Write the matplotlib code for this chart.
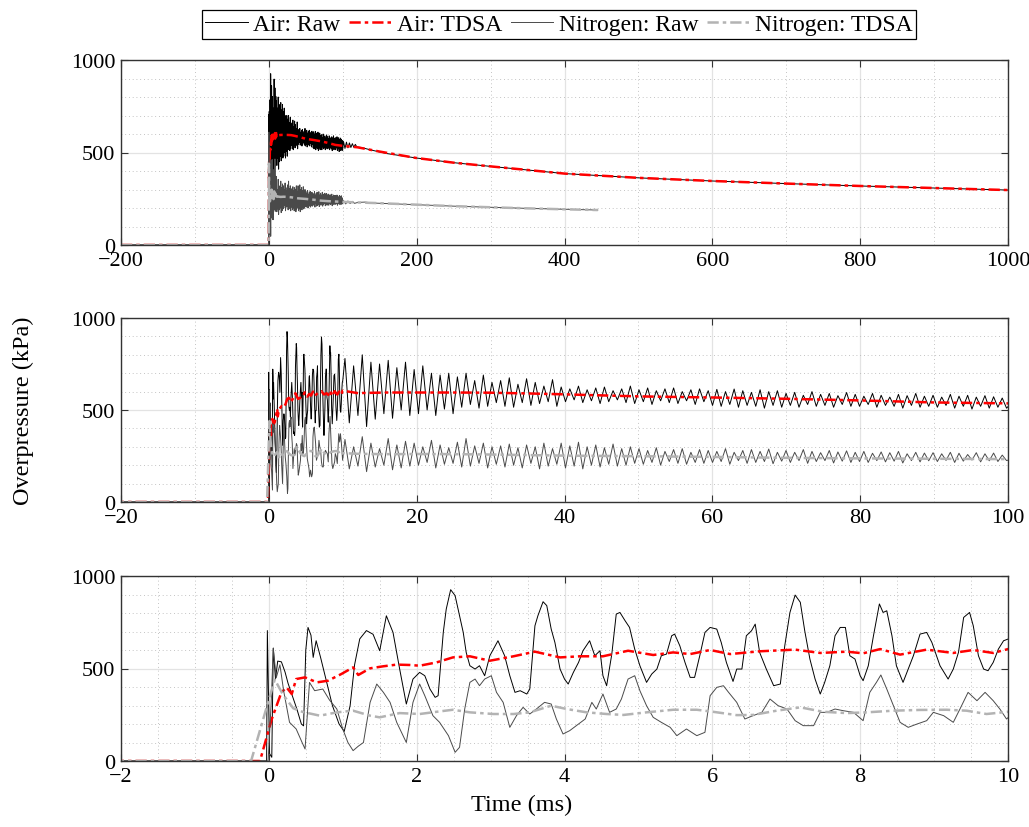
import numpy as np
import matplotlib
matplotlib.use("Agg")
import matplotlib.pyplot as plt
from matplotlib.ticker import MultipleLocator

plt.rcParams["font.family"] = ["Liberation Serif", "DejaVu Serif"]
plt.rcParams["axes.unicode_minus"] = True

# ---------------- data (ms, kPa) ----------------
# air raw, first 10 ms
air_raw_t = [
    -200, -0.03, -0.02, 0.01, 0.04, 0.06, 0.09, 0.12, 0.17, 0.22,
    0.26, 0.32, 0.38, 0.44, 0.47, 0.50, 0.53, 0.57, 0.60, 0.64,
    0.70, 0.78, 0.86, 0.95, 1.02, 1.10, 1.16, 1.23, 1.32, 1.41,
    1.50, 1.59, 1.68, 1.77, 1.86, 1.95, 2.04, 2.11, 2.18, 2.25,
    2.29, 2.36, 2.40, 2.46, 2.52, 2.58, 2.63, 2.67, 2.72, 2.79,
    2.85, 2.92, 2.99, 3.10, 3.19, 3.26, 3.33, 3.40, 3.49, 3.53,
    3.60, 3.64, 3.71, 3.76, 3.82, 3.87, 3.94, 4.00, 4.05, 4.12,
    4.19, 4.25, 4.34, 4.41, 4.48, 4.52, 4.57, 4.64, 4.70, 4.75,
    4.82, 4.88, 4.95, 5.02, 5.11, 5.18, 5.25, 5.31, 5.38, 5.45,
    5.49, 5.56, 5.63, 5.70, 5.76, 5.83, 5.90, 5.97, 6.06, 6.12,
    6.19, 6.28, 6.33, 6.40, 6.46, 6.53, 6.58, 6.64, 6.73, 6.83,
    6.92, 6.98, 7.05, 7.12, 7.19, 7.25, 7.32, 7.39, 7.46, 7.52,
    7.59, 7.66, 7.73, 7.80, 7.86, 7.93, 8.00, 8.04, 8.11, 8.18,
    8.26, 8.31, 8.36, 8.43, 8.49, 8.58, 8.65, 8.72, 8.81, 8.90,
    8.97, 9.08, 9.19, 9.26, 9.33, 9.40, 9.48, 9.53, 9.60, 9.67,
    9.73, 9.80, 9.87, 9.94, 10.0]
air_raw_v = [
    0, 0, 705, 40, 20, 610, 443, 540, 536, 480,
    420, 350, 280, 200, 190, 600, 722, 680, 560, 650,
    560, 430, 300, 200, 160, 300, 520, 660, 705, 685,
    596, 785, 695, 497, 308, 443, 479, 461, 389, 344,
    353, 695, 821, 926, 894, 785, 695, 587, 515, 497,
    515, 461, 569, 650, 569, 461, 371, 380, 362, 389,
    731, 785, 861, 840, 713, 641, 497, 443, 416, 479,
    533, 596, 650, 569, 596, 461, 407, 578, 794, 803,
    758, 722, 605, 515, 425, 470, 497, 569, 578, 677,
    686, 623, 533, 452, 452, 569, 695, 722, 713, 641,
    533, 430, 497, 497, 677, 704, 740, 587, 497, 407,
    416, 623, 803, 897, 858, 704, 551, 443, 362, 425,
    515, 677, 722, 722, 569, 551, 461, 434, 515, 677,
    849, 803, 812, 677, 515, 425, 497, 569, 686, 695,
    641, 515, 443, 497, 587, 776, 803, 731, 569, 497,
    488, 533, 605, 650, 659]

# air raw 10-100 ms: successive peaks and troughs (middle panel)
air_raw_mid = [
    780, 430, 740, 470, 800, 410, 760, 450,
    750, 480, 770, 455, 730, 500, 760, 470,
    720, 480, 740, 500, 700, 470, 690, 505,
    700, 480, 680, 515, 700, 530, 660, 510, 690, 520, 650, 540,
    660, 520, 675, 515, 640, 540, 670, 525, 650, 535, 630, 545, 665, 520,
    625, 545, 615, 555, 630, 540, 610, 550, 620, 535, 625, 545, 605, 555, 615, 540, 630, 535,
    610, 545, 620, 530, 605, 550, 615, 540, 620, 535, 600, 550, 610, 530, 615, 545,
    605, 525, 612, 520, 600, 530, 614, 515, 605, 525, 596, 520, 610, 510, 600, 525, 605, 515,
    590, 525, 596, 515, 580, 530, 600, 520, 585, 525, 590, 515, 578, 530, 595, 520,
    585, 520, 575, 530, 590, 515, 580, 525, 570, 520, 585, 510, 578, 525, 590, 515, 575, 520,
    580, 515, 570, 525, 585, 510, 575, 520, 580, 505, 570, 520, 578, 510, 572, 515, 565, 510]

# air raw tail (top panel)
air_raw_tail_t = [101, 103, 105, 107, 109, 111, 113, 115, 117, 119, 125, 140,
                  160, 200, 250, 300, 400, 500, 600, 700, 800, 900, 1000]
air_raw_tail_v = [560, 522, 556, 525, 552, 527, 548, 528, 544, 530, 527, 512,
                  494, 470, 445, 425, 386, 363, 346, 332, 319, 308, 297]

air_tdsa_t = [
    -200, -0.12, 0.04, 0.17, 0.24, 0.31, 0.37, 0.49, 0.65, 0.80,
    0.98, 1.14, 1.21, 1.37, 1.55, 1.73, 1.91, 2.04, 2.27, 2.49,
    2.72, 2.99, 3.31, 3.60, 3.94, 4.21, 4.52, 4.86, 5.20, 5.47,
    5.70, 5.97, 6.24, 6.64, 7.12, 7.46, 7.82, 8.04, 8.27, 8.54,
    8.90, 9.26, 9.53, 9.80, 10.0, 12, 16, 20, 25, 30,
    35, 40, 50, 60, 70, 80, 90, 100, 120, 150,
    200, 250, 300, 400, 500, 600, 700, 800, 900, 1000]
air_tdsa_v = [
    0, 0, 227, 371, 398, 362, 443, 452, 425, 434,
    470, 506, 465, 501, 512, 521, 519, 515, 533, 560,
    566, 542, 566, 591, 560, 566, 566, 596, 573, 587,
    578, 600, 578, 593, 602, 584, 591, 582, 605, 575,
    602, 584, 600, 584, 605, 592, 595, 595, 595, 594,
    590, 585, 574, 568, 561, 552, 541, 536, 528, 505,
    470, 445, 425, 386, 363, 346, 332, 319, 308, 297]

# nitrogen raw, first 10 ms
n2_raw_t = [
    -200, -0.01, 0.03, 0.06, 0.10, 0.15, 0.20, 0.28, 0.37, 0.45,
    0.49, 0.55, 0.62, 0.73, 0.82, 0.92, 1.00, 1.07, 1.14, 1.21,
    1.28, 1.37, 1.46, 1.55, 1.64, 1.73, 1.80, 1.86, 1.95, 2.04,
    2.11, 2.22, 2.31, 2.43, 2.52, 2.58, 2.65, 2.72, 2.79, 2.85,
    2.92, 3.01, 3.08, 3.17, 3.26, 3.35, 3.44, 3.53, 3.62, 3.73,
    3.82, 3.89, 3.98, 4.07, 4.16, 4.28, 4.37, 4.43, 4.52, 4.61,
    4.70, 4.77, 4.86, 4.95, 5.02, 5.11, 5.20, 5.31, 5.43, 5.52,
    5.65, 5.79, 5.90, 5.97, 6.06, 6.15, 6.22, 6.33, 6.44, 6.55,
    6.67, 6.78, 6.89, 7.01, 7.12, 7.23, 7.37, 7.46, 7.55, 7.66,
    7.77, 7.91, 8.04, 8.13, 8.22, 8.28, 8.36, 8.45, 8.54, 8.65,
    8.77, 8.90, 8.99, 9.13, 9.26, 9.35, 9.46, 9.58, 9.69, 9.80,
    9.89, 9.98]
n2_raw_v = [
    0, 0, 300, 610, 450, 520, 380, 209, 173, 100,
    65, 425, 380, 389, 330, 281, 173, 100, 56, 80,
    100, 317, 416, 371, 317, 209, 150, 100, 317, 416,
    353, 245, 209, 137, 47, 74, 281, 425, 443, 407,
    443, 461, 371, 317, 182, 245, 290, 254, 281, 317,
    308, 227, 146, 164, 191, 227, 317, 281, 362, 263,
    281, 335, 443, 461, 380, 299, 236, 209, 182, 137,
    173, 137, 155, 353, 398, 407, 371, 317, 227, 245,
    263, 335, 299, 281, 218, 191, 191, 263, 263, 281,
    272, 263, 218, 371, 425, 465, 389, 299, 209, 182,
    200, 218, 263, 245, 209, 281, 371, 326, 371, 326,
    281, 227]

n2_raw_mid = [
    340, 180, 300, 195, 355, 165, 320, 190, 290, 200, 345, 175, 310, 185, 330, 195,
    320, 200, 300, 215, 335, 185, 310, 205, 295, 210, 325, 190, 345, 195, 305, 210, 320, 185, 300, 205,
    305, 190, 315, 200, 295, 185, 310, 210, 300, 180, 320, 195, 290, 205,
    320, 185, 305, 195, 325, 180, 300, 200, 310, 190, 295, 205, 315, 195, 290, 200, 300, 210,
    290, 205, 280, 215, 295, 200, 275, 220, 285, 210, 290, 205, 270, 215, 285, 210,
    280, 215, 275, 220, 290, 205, 270, 225, 280, 210, 285, 215, 275, 220, 288, 208, 270, 222,
    280, 215, 270, 225, 285, 210, 275, 220, 268, 225, 280, 212, 272, 222, 278, 215,
    270, 220, 275, 215, 265, 225, 272, 218, 268, 222, 275, 212, 262, 225, 270, 218, 266, 224,
    268, 220, 262, 226, 270, 215, 265, 222, 258, 228, 268, 218, 262, 224, 266, 220, 255, 225]

n2_raw_tail_t = [101, 104, 107, 110, 113, 116, 120, 130, 140, 160, 200, 250, 300, 350, 400, 445]
n2_raw_tail_v = [240, 222, 238, 224, 236, 225, 230, 232, 227, 224, 218, 210, 204, 198, 193, 189]

n2_tdsa_t = [
    -200, -0.24, -0.03, 0.08, 0.19, 0.33, 0.46, 0.69, 0.92, 1.14,
    1.37, 1.50, 1.77, 2.04, 2.27, 2.49, 2.72, 3.04, 3.31, 3.53,
    3.82, 4.03, 4.30, 4.57, 4.80, 5.11, 5.47, 5.79, 6.01, 6.33,
    6.55, 6.87, 7.19, 7.50, 7.82, 8.09, 8.45, 8.81, 9.17, 9.44,
    9.71, 10.0, 12, 16, 20, 25, 30, 40, 50, 60,
    70, 80, 90, 100, 120, 150, 200, 250, 300, 350,
    400, 445]
n2_tdsa_v = [
    0, 0, 290, 440, 360, 285, 265, 245, 263, 272,
    245, 236, 259, 254, 266, 277, 263, 254, 254, 263,
    299, 281, 263, 254, 249, 263, 277, 277, 266, 248,
    249, 272, 290, 266, 259, 263, 272, 276, 277, 272,
    254, 266, 262, 260, 261, 260, 258, 252, 249, 245,
    240, 237, 235, 233, 230, 226, 218, 210, 204, 198,
    193, 189]

HALF_PERIOD = 0.585  # ms between a peak and the next trough
mid_t_air = 10.3 + HALF_PERIOD * np.arange(len(air_raw_mid))
mid_t_n2 = 10.3 + HALF_PERIOD * np.arange(len(n2_raw_mid))

air_t = np.concatenate([air_raw_t, mid_t_air, air_raw_tail_t])
air_v = np.concatenate([air_raw_v, air_raw_mid, air_raw_tail_v])
n2_t = np.concatenate([n2_raw_t, mid_t_n2, n2_raw_tail_t])
n2_v = np.concatenate([n2_raw_v, n2_raw_mid, n2_raw_tail_v])

# ---------------- figure ----------------
TICK_FS = 16
LABEL_FS = 17.5
LEG_FS = 17
fig = plt.figure(figsize=(10.29, 8.28), dpi=100)
W, H = 1029, 828
left, right = 121, 1008
panels = [
    # (top px, bottom px, xlim, major, minor)
    (61, 246, (-200, 1000), 200, 100),
    (319, 503, (-20, 100), 20, 10),
    (577, 762, (-2, 10), 2, 0.5),
]
SPINE = "#333333"
dash_pat = (4.5, 1.6, 1.4, 1.6)

axes = []
for top, bot, xlim, major, minor in panels:
    ax = fig.add_axes([left / W, 1 - bot / H, (right - left) / W, (bot - top) / H])
    ax.plot(air_t, air_v, color="black", lw=0.7, label="Air: Raw")
    ax.plot(air_tdsa_t, air_tdsa_v, color="#ff0000", lw=1.8, dashes=dash_pat, label="Air: TDSA")
    ax.plot(n2_t, n2_v, color="#4a4a4a", lw=0.7, label="Nitrogen: Raw")
    ax.plot(n2_tdsa_t, n2_tdsa_v, color="#b3b3b3", lw=1.8, dashes=dash_pat, label="Nitrogen: TDSA")
    ax.set_xlim(*xlim)
    ax.set_ylim(0, 1000)
    ax.xaxis.set_major_locator(MultipleLocator(major))
    ax.xaxis.set_minor_locator(MultipleLocator(minor))
    ax.yaxis.set_major_locator(MultipleLocator(500))
    ax.yaxis.set_minor_locator(MultipleLocator(100))
    ax.grid(which="major", color="#e3e3e3", lw=0.9, ls="-")
    ax.grid(which="minor", color="#b0b0b0", lw=0.6, ls=(0, (1, 3.5)))
    ax.set_axisbelow(True)
    for s in ax.spines.values():
        s.set_color(SPINE)
        s.set_linewidth(1.0)
    ax.tick_params(which="both", direction="in", top=True, right=True, colors=SPINE,
                   labelcolor="black", labelsize=TICK_FS)
    ax.tick_params(which="major", length=5, pad=4)
    ax.tick_params(which="minor", length=0)
    axes.append(ax)

axes[1].set_ylabel("Overpressure (kPa)", fontsize=LABEL_FS)
axes[1].yaxis.set_label_coords(-0.098, 0.5)
axes[2].set_xlabel("Time (ms)", fontsize=LABEL_FS)
axes[2].xaxis.set_label_coords(0.452, -0.18)

handles, labels = axes[0].get_legend_handles_labels()
leg = fig.legend(handles, labels, loc="upper center", bbox_to_anchor=(559 / W, 1 - 11 / H),
                 ncol=4, fontsize=LEG_FS, frameon=True, fancybox=False, edgecolor="black",
                 framealpha=1, handlelength=1.8, handletextpad=0.25, columnspacing=0.35,
                 borderpad=0.15, borderaxespad=0)
leg.get_frame().set_linewidth(0.9)

fig.savefig("out.png", dpi=100)
